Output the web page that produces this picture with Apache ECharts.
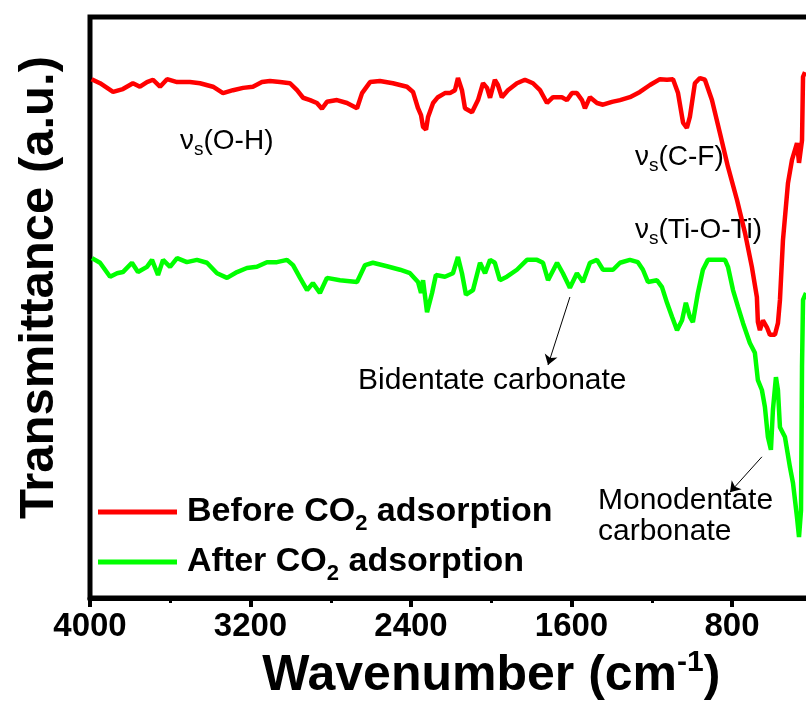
<!DOCTYPE html>
<html><head><meta charset="utf-8">
<script src="https://cdn.jsdelivr.net/npm/echarts@6/dist/echarts.min.js"></script>
<style>html,body{margin:0;padding:0;background:#fff}#c{width:806px;height:715px}</style>
</head><body><div id="c"></div>
<script>
const FONT = '"Liberation Sans", Arial, Helvetica, sans-serif';
const seriesNames = ['Before CO2 adsorption', 'After CO2 adsorption'];
const seriesColors = ['#ff0000', '#00ff00'];
const xTickLabels = [4000, 3200, 2400, 1600, 800];

const beforeWavenumber = [3992,3950,3885,3836,3786,3751,3716,3686,3651,3616,
3566,3502,3452,3387,3337,3287,3237,3188,3143,3103,
3053,3003,2968,2938,2903,2869,2844,2819,2769,2719,
2669,2644,2604,2555,2490,2420,2390,2365,2350,2340,
2325,2315,2290,2266,2231,2206,2181,2166,2146,2131,
2096,2066,2041,2021,2006,1982,1967,1947,1917,1872,
1832,1792,1757,1722,1692,1648,1623,1598,1573,1548,
1533,1508,1473,1443,1398,1358,1309,1259,1209,1159,
1124,1094,1069,1044,1025,1010,985,960,935,900,
860,820,775,735,701,676,671,661,646,626,
611,586,571,561,546,521,501,476,466,451,
446,436];
const beforeTransmittance = [89.3,88.6,87.1,87.6,88.6,88.0,88.8,89.2,88.0,89.3,
88.8,88.8,88.6,88.0,86.9,87.4,87.8,88.0,88.8,89.0,
88.8,88.6,87.4,86.1,85.7,85.2,84.2,85.4,85.7,85.2,
84.3,86.9,88.8,89.0,88.6,88.0,87.1,84.3,83.1,81.1,
80.6,82.8,85.2,86.2,86.9,86.9,87.4,89.5,87.4,84.3,
83.6,85.7,88.6,87.8,86.1,89.2,88.3,86.2,87.4,88.6,
89.2,88.6,87.4,85.2,86.2,86.2,85.7,86.9,86.9,85.7,
84.3,86.2,85.2,84.9,85.4,85.7,86.2,87.1,88.3,89.3,
89.2,89.3,86.9,81.8,80.9,82.8,88.6,89.5,89.2,85.7,
80.0,74.2,68.5,62.8,57.0,51.8,47.5,46.1,47.8,46.6,
45.3,45.3,47.3,51.3,61.6,71.4,75.4,78.3,74.9,78.8,
89.7,90.5];

const afterWavenumber = [3990,3950,3900,3865,3836,3791,3761,3716,3691,3661,
3636,3601,3566,3517,3467,3417,3367,3317,3267,3218,
3168,3118,3068,3018,2988,2953,2918,2889,2854,2819,
2754,2669,2629,2590,2520,2455,2405,2365,2350,2340,
2320,2295,2276,2231,2191,2166,2146,2126,2091,2056,
2031,2006,1982,1957,1922,1872,1822,1772,1742,1717,
1672,1643,1608,1573,1543,1508,1473,1443,1393,1358,
1309,1269,1244,1219,1174,1149,1124,1099,1074,1049,
1030,1010,995,970,945,920,875,835,820,795,
770,745,711,686,671,651,636,621,606,596,
581,571,561,536,511,496,476,466,456,451,
446,431];
const afterTransmittance = [58.5,57.7,55.3,55.9,56.1,57.7,56.1,57.0,58.2,55.6,
58.2,57.0,58.5,57.8,58.2,57.7,55.9,55.1,56.1,56.8,
57.0,57.8,57.8,58.2,57.3,55.1,53.0,54.2,52.5,55.1,
54.7,54.4,57.3,57.7,57.1,56.5,55.9,54.4,52.5,54.7,
49.2,52.5,55.6,55.3,55.9,58.7,55.9,52.2,53.0,57.7,
55.9,58.2,57.7,54.7,55.3,56.5,58.2,58.2,57.7,54.7,
57.7,55.9,53.4,55.9,54.4,57.7,58.2,56.5,56.5,57.7,
58.2,57.8,56.5,54.4,54.7,53.5,50.8,48.4,46.1,47.8,
50.8,48.4,47.5,52.5,56.5,58.2,58.2,58.2,57.0,53.0,
50.1,47.3,43.9,42.2,37.5,35.8,32.9,27.7,25.5,32.4,
38.0,35.8,29.4,27.7,22.5,19.8,13.9,10.5,15.1,39.8,
51.3,52.5];

// arrow annotations: [from, to] in [wavenumber, transmittance]
const bidentateArrow = [[1608, 51.8], [1717, 40.1]];
const monodentateArrow = [[651, 24.3], [810, 18.2]];

const zip = (xs, ys) => xs.map((x, i) => [x, ys[i]]);

const chart = echarts.init(document.getElementById('c'), null, {renderer: 'canvas'});
function annot(x, y, text, size) {
  return {type: 'text', x: x, y: y, silent: true,
    style: {text: text, fontFamily: FONT, fontSize: size || 28, fill: '#000',
      rich: {s: {fontFamily: FONT, fontSize: 19, fill: '#000', padding: [16, 0, 0, 0]}}}};
}

chart.setOption({
  animation: false,
  backgroundColor: '#fff',
  grid: {left: 90, top: 17, width: 802.5, height: 581, show: true,
    outerBoundsMode: 'none', containLabel: false,
    borderColor: '#000', borderWidth: 5, backgroundColor: 'transparent'},
  xAxis: {
    type: 'value', inverse: true, min: 0, max: 4000, interval: 800,
    name: 'Wavenumber (cm{sup|-1})', nameLocation: 'middle', nameGap: 48,
    nameTextStyle: {fontFamily: FONT, fontSize: 50, fontWeight: 'bold', color: '#000',
      rich: {sup: {fontFamily: FONT, fontSize: 30, fontWeight: 'bold', color: '#000', padding: [0, 0, 26, 0]}}},
    axisLine: {show: true, onZero: false, lineStyle: {color: '#000', width: 5}},
    axisTick: {show: true, inside: false, length: 9, lineStyle: {color: '#000', width: 4}},
    minorTick: {show: true, splitNumber: 2, length: 5, lineStyle: {color: '#000', width: 3}},
    splitLine: {show: false},
    axisLabel: {fontFamily: FONT, fontSize: 33, fontWeight: 'bold', color: '#000', margin: 12,
      formatter: v => xTickLabels.includes(v) ? String(v) : ''}
  },
  yAxis: {
    type: 'value', min: 0, max: 100,
    name: 'Transmittance (a.u.)', nameLocation: 'middle', nameRotate: 90, nameGap: 26,
    nameTextStyle: {fontFamily: FONT, fontSize: 49, fontWeight: 'bold', color: '#000',
      padding: [0, 0, 0, 40]},
    axisLine: {show: true, lineStyle: {color: '#000', width: 5}},
    axisTick: {show: false}, axisLabel: {show: false}, splitLine: {show: false}
  },
  legend: {
    data: seriesNames, orient: 'vertical', left: 93, top: 490,
    itemWidth: 79, itemHeight: 5, itemGap: 10, icon: 'rect',
    formatter: n => n.replace('CO2', 'CO{sub|2}'),
    textStyle: {fontFamily: FONT, fontSize: 34, fontWeight: 'bold', color: '#000',
      padding: [0, 0, 0, 5],
      rich: {sub: {fontFamily: FONT, fontSize: 22, fontWeight: 'bold', color: '#000', padding: [24, 0, 0, 0]}}}
  },
  series: [
    {name: seriesNames[0], type: 'line', data: zip(beforeWavenumber, beforeTransmittance),
      showSymbol: false, symbol: 'none', color: seriesColors[0],
      lineStyle: {color: seriesColors[0], width: 4.5}, emphasis: {disabled: true}},
    {name: seriesNames[1], type: 'line', data: zip(afterWavenumber, afterTransmittance),
      showSymbol: false, symbol: 'none', color: seriesColors[1],
      lineStyle: {color: seriesColors[1], width: 4.5}, emphasis: {disabled: true},
      markLine: {silent: true, symbol: ['none', 'arrow'], symbolSize: 10,
        lineStyle: {color: '#000', width: 1, type: 'solid'}, label: {show: false},
        emphasis: {disabled: true},
        data: [
          [{coord: bidentateArrow[0]}, {coord: bidentateArrow[1]}],
          [{coord: monodentateArrow[0]}, {coord: monodentateArrow[1]}]
        ]}}
  ],
  graphic: [
    annot(180, 124, 'ν{s|s}(O-H)'),
    annot(635, 140, 'ν{s|s}(C-F)'),
    annot(635, 213, 'ν{s|s}(Ti-O-Ti)'),
    annot(358, 366, 'Bidentate carbonate', 30),
    annot(598, 486, 'Monodentate', 30),
    annot(598, 517, 'carbonate', 30)
  ]
});
</script></body></html>
